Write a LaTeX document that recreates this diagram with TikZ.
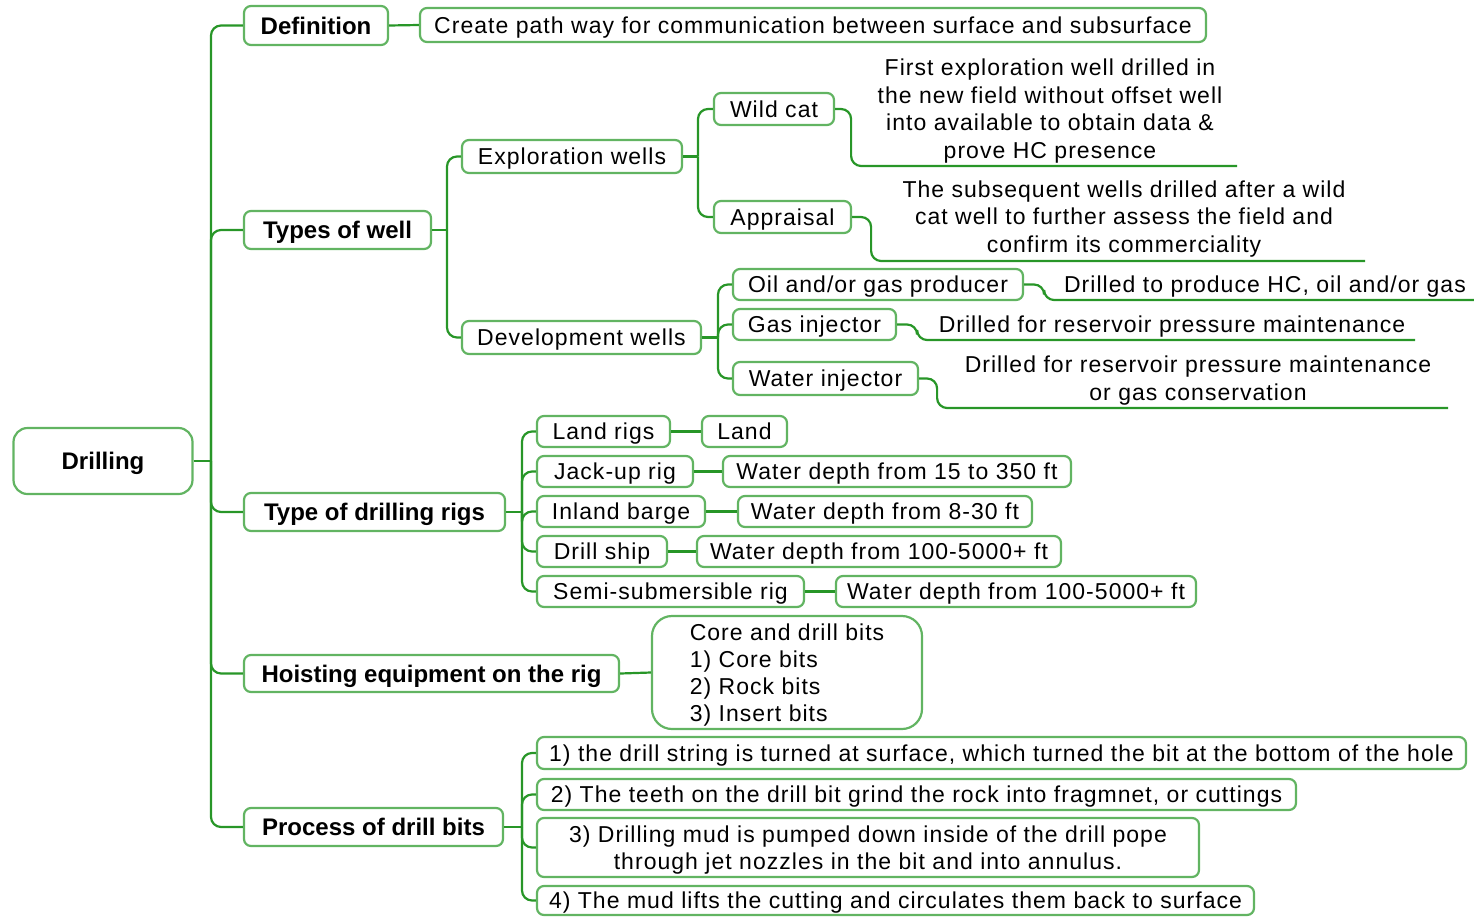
\documentclass[tikz,border=0pt]{standalone}
\usepackage{fontspec}
\setmainfont{Liberation Sans}
\newfontfamily\regf{Liberation Sans}[LetterSpace=4.5]
\definecolor{boxgreen}{RGB}{98,180,98}
\definecolor{linegreen}{RGB}{40,150,40}
\begin{document}
\begin{tikzpicture}[x=1pt,y=-1pt,
 box/.style={draw=boxgreen, line width=2.2pt, rounded corners=7pt, inner sep=0pt, font=\regf\fontsize{23}{27}\selectfont, align=center, text height=16.5pt, text depth=0pt},
 mbox/.style={draw=boxgreen, line width=2.2pt, rounded corners=7pt, inner sep=0pt, font=\regf\fontsize{23}{27.3}\selectfont},
 hbox/.style={box, font=\fontsize{24}{28}\selectfont\bfseries, text height=17.2pt},
 desc/.style={inner sep=0pt, font=\regf\fontsize{23}{27.4}\selectfont, align=center},
 conn/.style={draw=linegreen, line width=2.2pt, rounded corners=10pt},
 ]
\useasboundingbox (0,0) rectangle (1474,916);
% nodes
\node[hbox, minimum width=179pt, minimum height=66pt, rounded corners=14pt] (drill) at (103,461) {Drilling};
\node[hbox, minimum width=144pt, minimum height=39pt] (def) at (316,25.5) {Definition};
\node[box, minimum width=786pt, minimum height=34pt] (create) at (813,25) {Create path way for communication between surface and subsurface};
\node[hbox, minimum width=187pt, minimum height=38pt] (types) at (337.5,230) {Types of well};
\node[box, minimum width=220pt, minimum height=33pt] (expl) at (572,156.5) {Exploration wells};
\node[box, minimum width=239pt, minimum height=33pt] (dev) at (581.5,337.5) {Development wells};
\node[box, minimum width=120pt, minimum height=32pt] (wild) at (774,109) {Wild cat};
\node[box, minimum width=137pt, minimum height=32pt] (appr) at (782.5,217) {Appraisal};
\node[desc] (wdesc) at (1050,111) {First exploration well drilled in\\the new field without offset well\\into available to obtain data \&\\prove HC presence};
\node[desc] (adesc) at (1124,219) {The subsequent wells drilled after a wild\\cat well to further assess the field and\\confirm its commerciality};
\node[box, minimum width=290pt, minimum height=31pt] (oil) at (878,284.5) {Oil and/or gas producer};
\node[desc] (oild) at (1265,287) {Drilled to produce HC, oil and/or gas};
\node[box, minimum width=163pt, minimum height=31pt] (gas) at (814.5,324.5) {Gas injector};
\node[desc] (gasd) at (1172,327) {Drilled for reservoir pressure maintenance};
\node[box, minimum width=185pt, minimum height=33pt] (water) at (825.5,378.5) {Water injector};
\node[desc] (waterd) at (1198,380.5) {Drilled for reservoir pressure maintenance\\or gas conservation};
\node[hbox, minimum width=261pt, minimum height=38pt] (rigs) at (374.5,512) {Type of drilling rigs};
\node[box, minimum width=133pt, minimum height=31pt] (land) at (603.5,431.5) {Land rigs};
\node[box, minimum width=85pt, minimum height=31pt] (landd) at (744.5,431.5) {Land};
\node[box, minimum width=156pt, minimum height=31pt] (jack) at (615,471.5) {Jack-up rig};
\node[box, minimum width=348pt, minimum height=31pt] (jackd) at (897,471.5) {Water depth from 15 to 350 ft};
\node[box, minimum width=168pt, minimum height=31pt] (inland) at (621,511.5) {Inland barge};
\node[box, minimum width=294pt, minimum height=31pt] (inlandd) at (885,511.5) {Water depth from 8-30 ft};
\node[box, minimum width=130pt, minimum height=31pt] (ship) at (602,551.5) {Drill ship};
\node[box, minimum width=364pt, minimum height=31pt] (shipd) at (879,551.5) {Water depth from 100-5000+ ft};
\node[box, minimum width=267pt, minimum height=31pt] (semi) at (670.5,591.5) {Semi-submersible rig};
\node[box, minimum width=360pt, minimum height=31pt] (semid) at (1016,591.5) {Water depth from 100-5000+ ft};
\node[hbox, minimum width=375pt, minimum height=37pt] (hoist) at (431.5,673.5) {Hoisting equipment on the rig};
\node[mbox, minimum width=270pt, minimum height=113pt, rounded corners=20pt] (core) at (787,672.5) {\raisebox{-3pt}[\height][\depth]{\begin{tabular}{@{}l@{}}Core and drill bits\\1) Core bits\\2) Rock bits\\3) Insert bits\end{tabular}}};
\node[hbox, minimum width=259pt, minimum height=38pt] (proc) at (373.5,827) {Process of drill bits};
\node[box, minimum width=929pt, minimum height=32pt] (p1) at (1001.5,753) {1) the drill string is turned at surface, which turned the bit at the bottom of the hole};
\node[box, minimum width=759pt, minimum height=31pt] (p2) at (916.5,794.5) {2) The teeth on the drill bit grind the rock into fragmnet, or cuttings};
\node[mbox, minimum width=662pt, minimum height=59pt] (p3) at (868,847.5) {\raisebox{-3pt}[\height][\depth]{\begin{tabular}{@{}c@{}}3) Drilling mud is pumped down inside of the drill pope\\through jet nozzles in the bit and into annulus.\end{tabular}}};
\node[box, minimum width=717pt, minimum height=29pt] (p4) at (895.5,900.5) {4) The mud lifts the cutting and circulates them back to surface};
% junctions
\coordinate (j0) at (211,461);
\coordinate (j1) at (447,230);
\coordinate (j2) at (698,156.5);
\coordinate (j3) at (718,337.5);
\coordinate (j4) at (522,512);
\coordinate (j5) at (522,827);
\coordinate (wcEnd) at (1237,166);
\coordinate (apEnd) at (1365,261);
\coordinate (oilEnd) at (1474,300);
\coordinate (gasEnd) at (1415,340);
\coordinate (watEnd) at (1448,408);
% connectors
\draw[conn] (drill.east) -- (j0);
\foreach \n in {def,types,rigs,hoist,proc} \draw[conn] (j0) |- (\n.west);
\draw[conn] (types.east) -- (j1);
\foreach \n in {expl,dev} \draw[conn] (j1) |- (\n.west);
\draw[conn] (expl.east) -- (j2);
\foreach \n in {wild,appr} \draw[conn] (j2) |- (\n.west);
\draw[conn] (dev.east) -- (j3);
\foreach \n in {oil,gas,water} \draw[conn] (j3) |- (\n.west);
\draw[conn] (rigs.east) -- (j4);
\foreach \n in {land,jack,inland,ship,semi} \draw[conn] (j4) |- (\n.west);
\draw[conn] (proc.east) -- (j5);
\foreach \n in {p1,p2,p3,p4} \draw[conn] (j5) |- (\n.west);
\draw[conn] (def.east) -- (create.west);
\draw[conn] (hoist.east) -- (core.west);
\draw[conn] (land.east) -- (landd.west);
\draw[conn] (jack.east) -- (jackd.west);
\draw[conn] (inland.east) -- (inlandd.west);
\draw[conn] (ship.east) -- (shipd.west);
\draw[conn] (semi.east) -- (semid.west);
\draw[conn] (wild.east) -- ++(16,0) |- (wcEnd);
\draw[conn] (appr.east) -- ++(19,0) |- (apEnd);
\draw[conn] (oil.east) -- ++(20,0) |- (oilEnd);
\draw[conn] (gas.east) -- ++(20,0) |- (gasEnd);
\draw[conn] (water.east) -- ++(18,0) |- (watEnd);
\end{tikzpicture}
\end{document}
